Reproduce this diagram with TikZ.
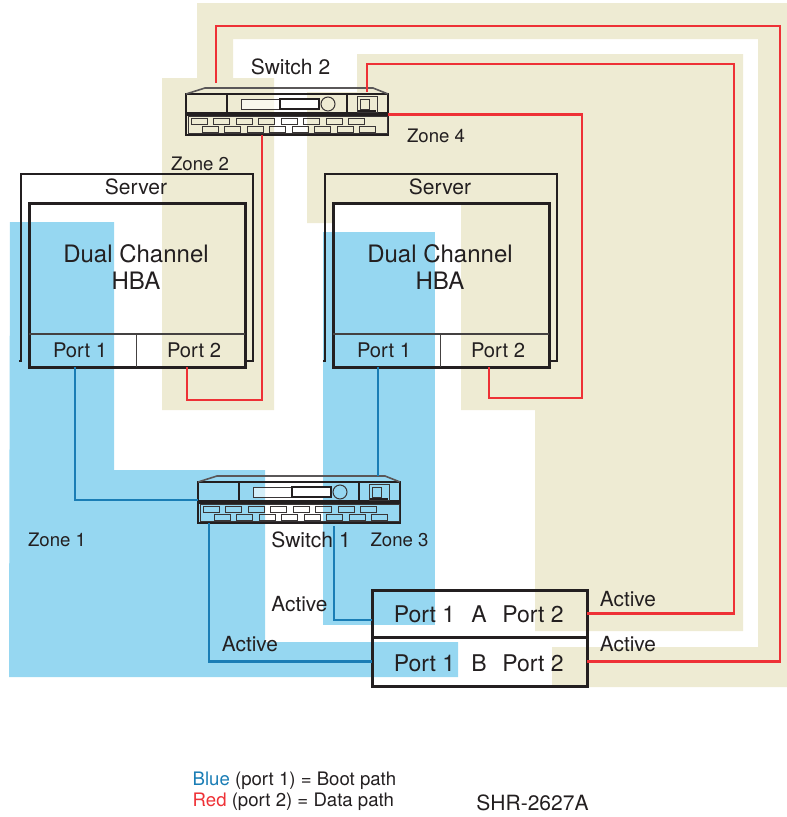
\documentclass[tikz,border=0pt]{standalone}
\usepackage{fontspec}
\setmainfont{TeX Gyre Heros}
\usepackage{tikz}
\definecolor{zonetan}{HTML}{EEEBD3}
\definecolor{zonesky}{HTML}{96D7F1}
\definecolor{linkblue}{HTML}{1A7DB5}
\definecolor{linkred}{HTML}{EE3136}
\definecolor{inkdark}{HTML}{231F20}

\begin{document}
\begin{tikzpicture}[x=1pt,y=-1pt,
		redlink/.style={draw=linkred,line width=2.7pt},
		bluelink/.style={draw=linkblue,line width=2.7pt},
		heavybox/.style={draw=inkdark,line width=3pt,inner sep=0pt,outer sep=0pt},
		srvline/.style={draw=inkdark,line width=2.3pt},
		hairline/.style={draw=inkdark!85,line width=1.2pt},
		swline/.style={draw=inkdark,line width=2pt},
		swport/.style={draw=inkdark!90,line width=1pt},
		lbl/.style={text=inkdark,inner sep=0pt,font=\fontsize{#1}{27}\selectfont,align=center},
		lbl/.default=21]
	\useasboundingbox (0,0) rectangle (787,817);

	% zones
	\fill[zonetan] (197,3) -- (787,3) -- (787,687) -- (552,687) -- (552,647) -- (758,647) -- (758,39) -- (233,39) -- (233,78) -- (274,78) -- (274,410) -- (162,410) -- (162,78) -- (197,78) -- cycle;
	\fill[zonetan] (357,54) -- (743,54) -- (743,631) -- (535,631) -- (535,410) -- (461,410) -- (461,204) -- (333,204) -- (333,223) -- (307,223) -- (307,92) -- (357,92) -- cycle;
	\fill[zonesky] (10,222) -- (114,222) -- (114,470) -- (265,470) -- (265,642) -- (458,642) -- (458,677) -- (9,677) -- cycle;
	\fill[zonesky] (323,232) rectangle (435,625);

	% switches
	\foreach \sw/\sx/\sy in {SwTwo/186/88,SwOne/198/476} {
		\begin{scope}[shift={(\sx,\sy)}]
			\node[draw=inkdark,line width=2.4pt,inner sep=0pt,outer sep=0pt,minimum width=202,minimum height=41] (\sw) at (101,26.5) {};
			\draw[draw=inkdark!75,line width=1.6pt] (0,6) -- (19,0) -- (187,0) -- (202,6);
			\draw[draw=inkdark,line width=3.4pt] (0,26) -- (202,26);
			\draw[swline] (41,6) -- (41,26);
			\draw[swline] (161,6) -- (161,26);
			\draw[swport,fill=white,fill opacity=.6] (55,11) rectangle (133,21);
			\draw[draw=inkdark,line width=1.6pt,fill=white] (94,11) rectangle (133,21);
			\draw[swport] (142,16) circle [radius=7];
			\draw[swport] (171,8) rectangle (191,24);
			\draw[swport] (174,11) rectangle (183,21);
			\draw[draw=inkdark,line width=1.6pt] (172,23) -- (190,23);
			\draw[swport] (2,28) rectangle (201,45);
			\foreach \i in {0,...,7} {
				\pgfmathsetmacro{\px}{5+22.5*\i}
				\pgfmathsetmacro{\qx}{16+22.5*\i}
				\draw[swport] (\px,30) rectangle ++(16,6);
				\draw[swport] (\qx,38) rectangle ++(16,6);
			}
		\end{scope}
	}

	% servers
	\foreach \n/\sx in {One/0,Two/304} {
		\begin{scope}[xshift=\sx]
			\draw[srvline] (19,361) -- (21,361) -- (21,174) -- (253,174) -- (253,361) -- (245,361);
			\node[heavybox,minimum width=216,minimum height=164] (Hba\n) at (137,285) {};
			\draw[hairline] (29,334) -- (245,334);
			\draw[hairline] (136.5,334) -- (136.5,367);
			\node[lbl] (Srv\n) at (136,187) {Server};
			\node[lbl=24] (Title\n) at (136,267.5) {Dual Channel\\HBA};
			\node[lbl=20.2] (PortA\n) at (80,350) {Port 1};
			\node[lbl=20.2] (PortB\n) at (194,350) {Port 2};
		\end{scope}
	}

	% storage
	\node[heavybox,minimum width=215,minimum height=47] (BoxA) at (479.5,613.5) {};
	\node[heavybox,minimum width=215,minimum height=49] (BoxB) at (479.5,661.5) {};
	\node[lbl=23] (AOne) at (424.5,614) {Port 1};
	\node[lbl=23] (ALetter) at (479,614) {A};
	\node[lbl=23] (ATwo) at (533,614) {Port 2};
	\node[lbl=23] (BOne) at (424.5,663) {Port 1};
	\node[lbl=23] (BLetter) at (479,663) {B};
	\node[lbl=23] (BTwo) at (533,663) {Port 2};

	% red
	\coordinate (TapOuter) at (216,83);
	\coordinate (TapInner) at (367,92);
	\coordinate (TapLow) at (262,135);
	\coordinate (HbaOneRed) at (187,367);
	\coordinate (HbaTwoRed) at (489,367);
	\draw[redlink] (TapOuter) |- (780,26) |- (BoxB.east);
	\draw[redlink] (TapInner) |- (734,64) |- (BoxA.east);
	\draw[redlink] (SwTwo.east) -| (582,398) -| (HbaTwoRed);
	\draw[redlink] (TapLow) |- (187,400) -- (HbaOneRed);

	% blue
	\coordinate (HbaOneBlue) at (75,367);
	\coordinate (HbaTwoBlue) at (378,367);
	\coordinate (SwOneLeft) at (198,500);
	\coordinate (SwOneTop) at (378,476);
	\coordinate (SwOneLow) at (209,523);
	\coordinate (SwOneMid) at (334,526);
	\draw[bluelink] (HbaOneBlue) |- (SwOneLeft);
	\draw[bluelink] (HbaTwoBlue) -- (SwOneTop);
	\draw[bluelink] (SwOneLow) |- (BoxB.west);
	\draw[bluelink] (SwOneMid) |- (372,620);

	% labels
	\node[lbl] (NameTwo) at (290.5,67) {Switch 2};
	\node[lbl] (NameOne) at (311,540) {Switch 1};
	\node[lbl=18.6] (ZoneOne) at (57,540) {Zone 1};
	\node[lbl=18.6] (ZoneTwo) at (200,164) {Zone 2};
	\node[lbl=18.6] (ZoneThree) at (399.5,540) {Zone 3};
	\node[lbl=18.6] (ZoneFour) at (436,136) {Zone 4};
	\node[lbl=20.8] (ActA) at (299.5,604) {Active};
	\node[lbl=20.8] (ActB) at (250,644) {Active};
	\node[lbl=20.8] (ActC) at (628,599) {Active};
	\node[lbl=20.8] (ActD) at (628,644) {Active};
	\node[lbl=18.6,anchor=west] (KeyBlue) at (192.5,781) {\textcolor{linkblue}{Blue} (port 1) = Boot path};
	\node[lbl=18.6,anchor=west] (KeyRed) at (192.5,802) {\textcolor{linkred}{Red} (port 2) = Data path};
	\node[lbl] (PartNo) at (532.5,803) {SHR-2627A};
\end{tikzpicture}
\end{document}
